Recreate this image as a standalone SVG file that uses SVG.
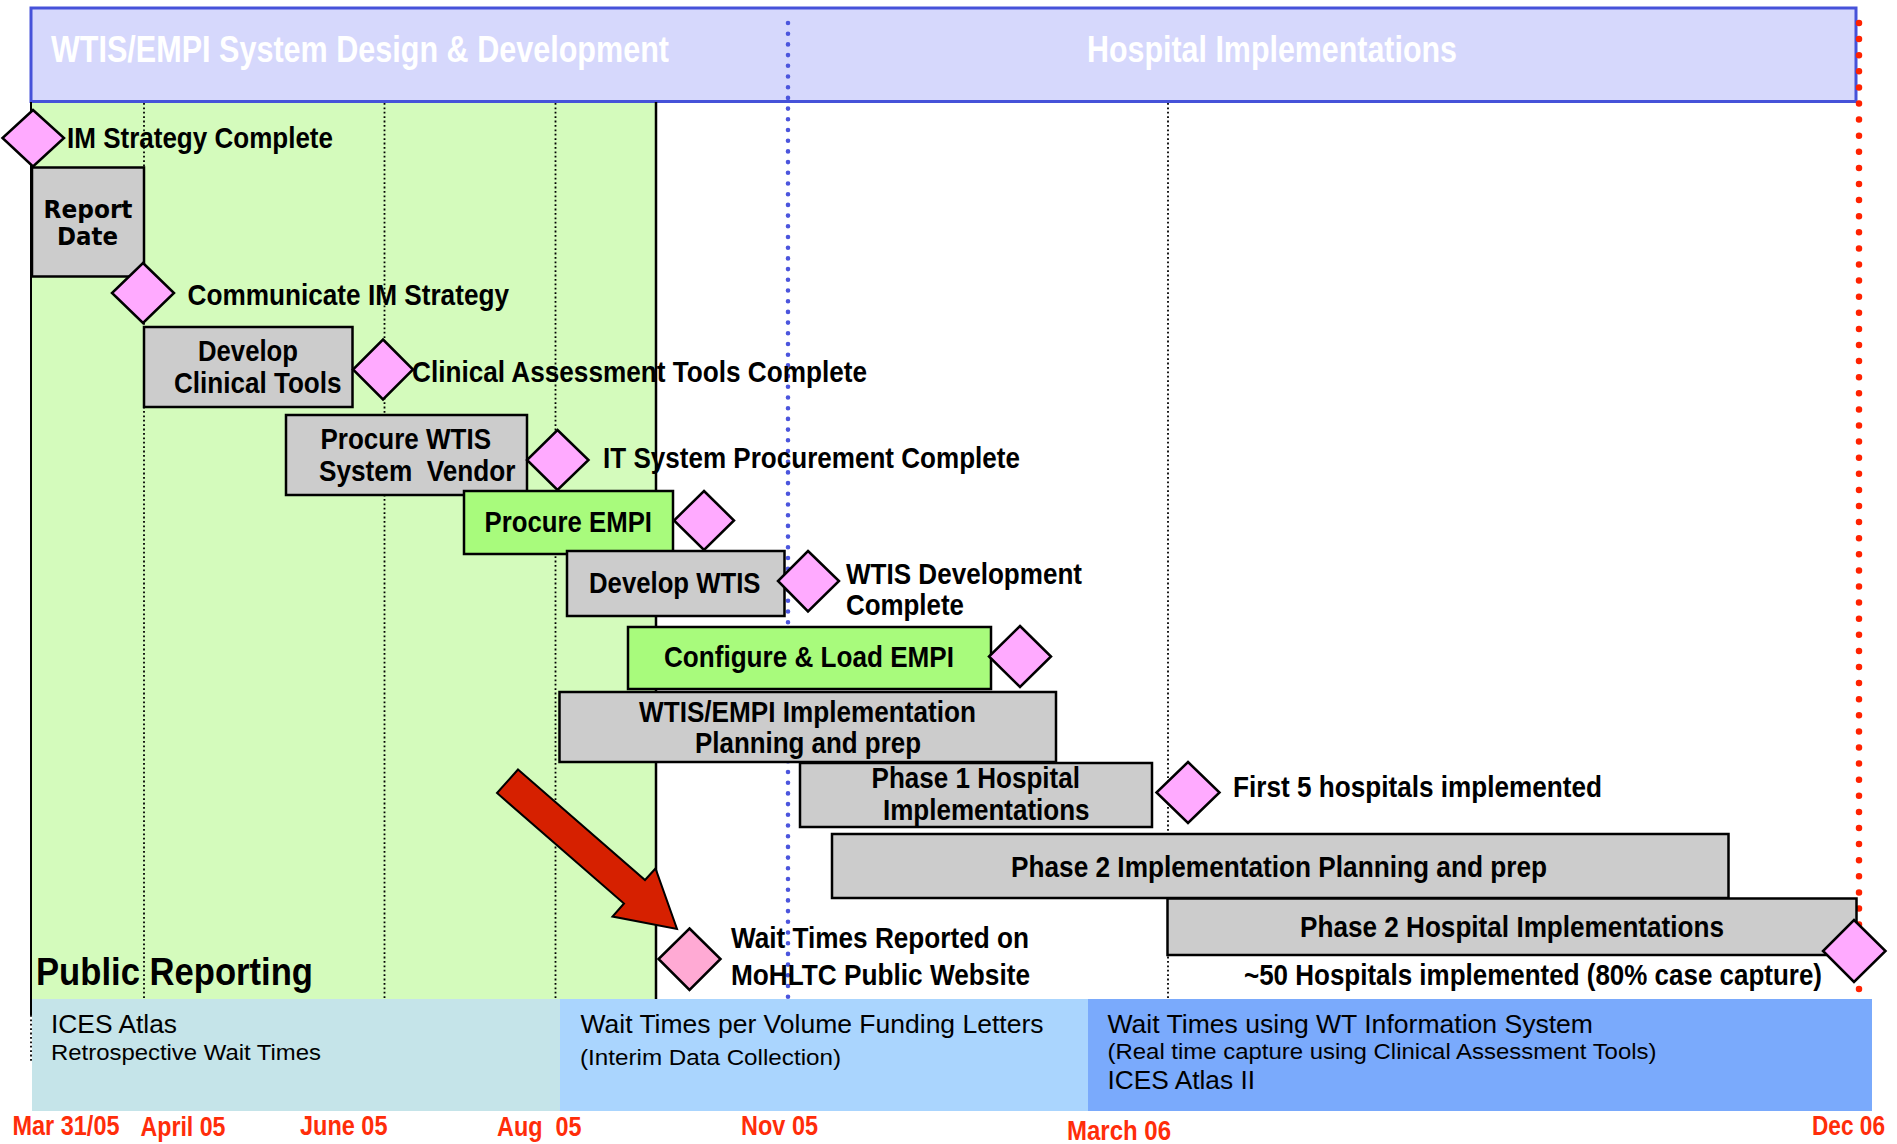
<svg xmlns="http://www.w3.org/2000/svg" width="1897" height="1144" viewBox="0 0 1897 1144">
<style>
.lbl{font-family:"Liberation Sans Narrow","Liberation Sans",Arial,sans-serif;font-weight:700;font-size:30px;fill:#000}
.ttl{font-family:"Liberation Sans Narrow","Liberation Sans",Arial,sans-serif;font-weight:700;font-size:36px;fill:#fff}
.axis{font-family:"Liberation Sans Narrow","Liberation Sans",Arial,sans-serif;font-weight:700;font-size:27px;fill:#FF2D0A}
.reg{font-family:"Liberation Sans Narrow","Liberation Sans",Arial,sans-serif;font-weight:400;fill:#000}
.rd{font-family:"DejaVu Sans",Verdana,sans-serif;font-weight:700;font-size:24px;fill:#000}
.box{fill:#CCCCCC;stroke:#000;stroke-width:2.5}
.gbox{fill:#A8FB7C;stroke:#000;stroke-width:2.5}
.dia{fill:#FFAAFF;stroke:#000;stroke-width:2.5}
.grid{stroke:#000;stroke-width:1.8;stroke-dasharray:1.8 2.6;fill:none}
</style>
<rect x="0" y="0" width="1897" height="1144" fill="#fff"/>
<g id="background">
<rect x="31" y="102" width="625" height="897" fill="#D4FBBC"/>
<rect x="32" y="999" width="528" height="112" fill="#C5E4E9"/>
<rect x="560" y="999" width="528" height="112" fill="#AAD5FE"/>
<rect x="1088" y="999" width="784" height="112" fill="#7AAAFC"/>
</g>
<g id="banner">
<rect x="31" y="8" width="1825" height="93.5" fill="#D6D8FC" stroke="#4652D9" stroke-width="3"/>
<text class="ttl" x="51" y="62" textLength="618" lengthAdjust="spacingAndGlyphs">WTIS/EMPI System Design &amp; Development</text>
<text class="ttl" x="1087" y="62" textLength="370" lengthAdjust="spacingAndGlyphs">Hospital Implementations</text>
</g>
<g id="gridlines">
<line class="grid" x1="144" y1="103" x2="144" y2="999"/>
<line class="grid" x1="384.5" y1="103" x2="384.5" y2="999"/>
<line class="grid" x1="555.5" y1="103" x2="555.5" y2="999"/>
<line class="grid" x1="1168" y1="103" x2="1168" y2="999"/>
<line x1="31" y1="102" x2="31" y2="1015" stroke="#000" stroke-width="2"/>
<line class="grid" x1="31" y1="1015" x2="31" y2="1063"/>
<line x1="656" y1="102" x2="656" y2="999" stroke="#000" stroke-width="2.5"/>
<line x1="788" y1="23" x2="788" y2="999" stroke="#4B55DD" stroke-width="4.6" stroke-linecap="round" stroke-dasharray="0 10.7"/>
<line x1="1859" y1="23" x2="1859" y2="990" stroke="#FF2200" stroke-width="6.5" stroke-linecap="round" stroke-dasharray="0 16.1"/>
</g>
<g id="node-im-strategy-complete">
<polygon class="dia" points="33,110 64,138 33,166.5 2.5,138"/>
<text class="lbl" x="67" y="148" textLength="266" lengthAdjust="spacingAndGlyphs">IM Strategy Complete</text>
</g>
<g id="node-report-date">
<rect class="box" x="32" y="167.5" width="112" height="109"/>
<text class="rd" x="43.5" y="218" textLength="89" lengthAdjust="spacingAndGlyphs">Report</text>
<text class="rd" x="57" y="244.5" textLength="61" lengthAdjust="spacingAndGlyphs">Date</text>
</g>
<g id="node-communicate-im-strategy">
<polygon class="dia" points="143,263 174,293 143,323 112,293"/>
<text class="lbl" x="187.5" y="305" textLength="321.5" lengthAdjust="spacingAndGlyphs">Communicate IM Strategy</text>
</g>
<g id="node-develop-clinical-tools">
<rect class="box" x="144" y="327" width="208.5" height="80"/>
<text class="lbl" x="198" y="361" textLength="100" lengthAdjust="spacingAndGlyphs">Develop</text>
<text class="lbl" x="174" y="393" textLength="167.5" lengthAdjust="spacingAndGlyphs">Clinical Tools</text>
</g>
<g id="node-clinical-tools-complete">
<polygon class="dia" points="383,339.5 413,369.5 383,399.5 353,369.5"/>
<text class="lbl" x="412" y="382" textLength="455" lengthAdjust="spacingAndGlyphs">Clinical Assessment Tools Complete</text>
</g>
<g id="node-procure-wtis-vendor">
<rect class="box" x="286" y="415" width="241" height="80"/>
<text class="lbl" x="320.5" y="449" textLength="170.5" lengthAdjust="spacingAndGlyphs">Procure WTIS</text>
<text class="lbl" x="319" y="481" textLength="196.5" lengthAdjust="spacingAndGlyphs" xml:space="preserve">System  Vendor</text>
</g>
<g id="node-it-procurement-complete">
<polygon class="dia" points="557.5,430 588.5,460 557.5,490 527,460"/>
<text class="lbl" x="603" y="468" textLength="417" lengthAdjust="spacingAndGlyphs">IT System Procurement Complete</text>
</g>
<g id="node-procure-empi">
<rect class="gbox" x="464" y="491" width="209" height="63"/>
<text class="lbl" x="484.5" y="532" textLength="167.5" lengthAdjust="spacingAndGlyphs">Procure EMPI</text>
</g>
<g id="node-procure-empi-milestone">
<polygon class="dia" points="704,491 734,520.5 704,550 674,520.5"/>
</g>
<g id="node-develop-wtis">
<rect class="box" x="567" y="551" width="217.5" height="65"/>
<text class="lbl" x="589" y="593" textLength="171.5" lengthAdjust="spacingAndGlyphs">Develop WTIS</text>
</g>
<g id="node-wtis-development-complete">
<polygon class="dia" points="808,551 839,581 808,611.5 778,581"/>
<text class="lbl" x="846" y="584" textLength="236" lengthAdjust="spacingAndGlyphs">WTIS Development</text>
<text class="lbl" x="846" y="615" textLength="118" lengthAdjust="spacingAndGlyphs">Complete</text>
</g>
<g id="node-configure-load-empi">
<rect class="gbox" x="628" y="627" width="363" height="62"/>
<text class="lbl" x="664" y="667" textLength="290" lengthAdjust="spacingAndGlyphs">Configure &amp; Load EMPI</text>
</g>
<g id="node-configure-milestone">
<polygon class="dia" points="1020,626 1051,656.5 1020,687 989,656.5"/>
</g>
<g id="node-implementation-planning">
<rect class="box" x="559.5" y="692" width="496.5" height="70"/>
<text class="lbl" x="639" y="722" textLength="337" lengthAdjust="spacingAndGlyphs">WTIS/EMPI Implementation</text>
<text class="lbl" x="695" y="753" textLength="226" lengthAdjust="spacingAndGlyphs">Planning and prep</text>
</g>
<g id="node-phase1-implementations">
<rect class="box" x="800" y="763" width="352" height="64"/>
<text class="lbl" x="871.5" y="788" textLength="208.5" lengthAdjust="spacingAndGlyphs">Phase 1 Hospital</text>
<text class="lbl" x="883" y="820" textLength="206.5" lengthAdjust="spacingAndGlyphs">Implementations</text>
</g>
<g id="node-first-5-hospitals">
<polygon class="dia" points="1188,762 1219.5,792.5 1188,823 1156.5,792.5"/>
<text class="lbl" x="1233" y="797" textLength="369" lengthAdjust="spacingAndGlyphs">First 5 hospitals implemented</text>
</g>
<g id="node-phase2-planning">
<rect class="box" x="832" y="834" width="896.5" height="64"/>
<text class="lbl" x="1011" y="877" textLength="536" lengthAdjust="spacingAndGlyphs">Phase 2 Implementation Planning and prep</text>
</g>
<g id="node-phase2-implementations">
<rect class="box" x="1167.5" y="898.5" width="689" height="56.5"/>
<text class="lbl" x="1300" y="937" textLength="424" lengthAdjust="spacingAndGlyphs">Phase 2 Hospital Implementations</text>
</g>
<g id="node-50-hospitals">
<polygon class="dia" points="1854,920 1885.5,951 1854,982 1823,951"/>
<text class="lbl" x="1244" y="985" style="font-size:29px" textLength="578" lengthAdjust="spacingAndGlyphs">~50 Hospitals implemented (80% case capture)</text>
</g>
<g id="node-wait-times-reported">
<polygon points="689.5,928.5 720.5,959 689.5,990 658.5,959" fill="#FFAAD4" stroke="#000" stroke-width="2.5"/>
<text class="lbl" x="731" y="948" textLength="298" lengthAdjust="spacingAndGlyphs">Wait Times Reported on</text>
<text class="lbl" x="731" y="985" textLength="299" lengthAdjust="spacingAndGlyphs">MoHLTC Public Website</text>
</g>
<g id="connectors">
<polygon id="callout-arrow" points="518,769.5 645,880 655.5,868.5 677,929 612.5,916.5 624,903.5 497,793" fill="#D62000" stroke="#000" stroke-width="2" stroke-linejoin="miter"/>
</g>
<g id="public-reporting">
<text class="lbl" x="36" y="985" style="font-size:39px" textLength="277" lengthAdjust="spacingAndGlyphs">Public Reporting</text>
<text class="reg" x="51" y="1033" style="font-size:25px" textLength="126" lengthAdjust="spacingAndGlyphs">ICES Atlas</text>
<text class="reg" x="51" y="1060" style="font-size:22px" textLength="270" lengthAdjust="spacingAndGlyphs">Retrospective Wait Times</text>
<text class="reg" x="580.5" y="1033" style="font-size:25px" textLength="463" lengthAdjust="spacingAndGlyphs">Wait Times per Volume Funding Letters</text>
<text class="reg" x="580" y="1065" style="font-size:22px" textLength="261" lengthAdjust="spacingAndGlyphs">(Interim Data Collection)</text>
<text class="reg" x="1107.5" y="1033" style="font-size:25px" textLength="485.5" lengthAdjust="spacingAndGlyphs">Wait Times using WT Information System</text>
<text class="reg" x="1107.5" y="1059" style="font-size:22px" textLength="549" lengthAdjust="spacingAndGlyphs">(Real time capture using Clinical Assessment Tools)</text>
<text class="reg" x="1107.5" y="1089" style="font-size:25px" textLength="147.5" lengthAdjust="spacingAndGlyphs">ICES Atlas II</text>
</g>
<g id="axis">
<text class="axis" x="12.5" y="1135" textLength="107" lengthAdjust="spacingAndGlyphs">Mar 31/05</text>
<text class="axis" x="140.5" y="1136" textLength="85" lengthAdjust="spacingAndGlyphs">April 05</text>
<text class="axis" x="300" y="1135" textLength="87.5" lengthAdjust="spacingAndGlyphs">June 05</text>
<text class="axis" x="497" y="1136" textLength="84.5" lengthAdjust="spacingAndGlyphs" xml:space="preserve">Aug  05</text>
<text class="axis" x="741" y="1135" textLength="77" lengthAdjust="spacingAndGlyphs">Nov 05</text>
<text class="axis" x="1067" y="1140" textLength="104" lengthAdjust="spacingAndGlyphs">March 06</text>
<text class="axis" x="1812" y="1135" textLength="73" lengthAdjust="spacingAndGlyphs">Dec 06</text>
</g>
</svg>
